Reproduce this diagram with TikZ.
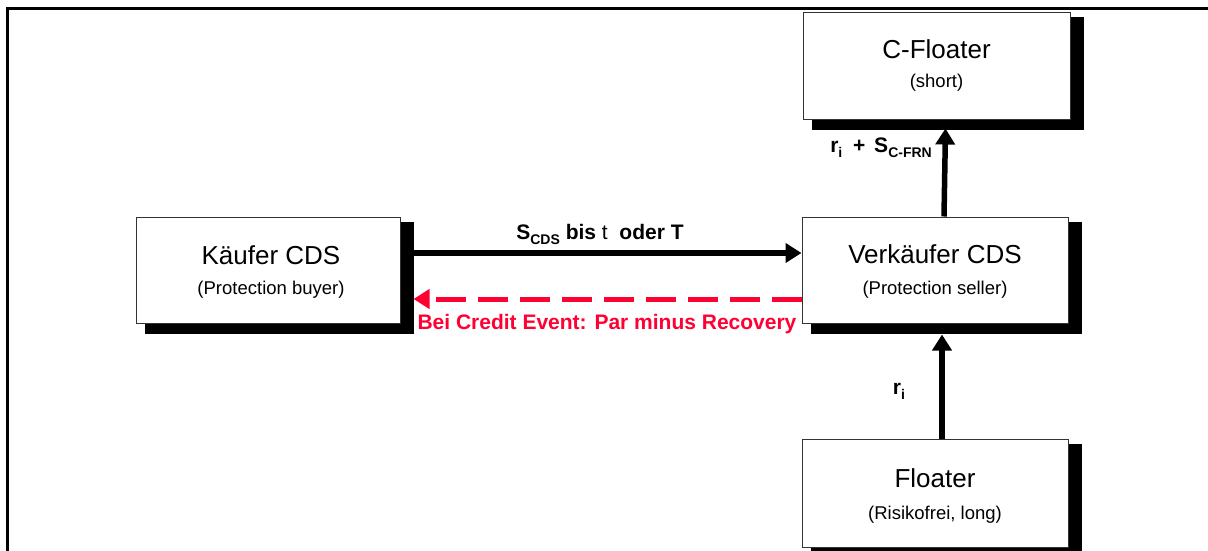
\documentclass[tikz,border=0pt]{standalone}
\usepackage{fontspec}
\setmainfont{Liberation Sans}
\usetikzlibrary{arrows.meta,backgrounds}
\definecolor{cdsred}{RGB}{255,0,51}
\newcommand{\sbx}[1]{\raisebox{-5pt}{\fontsize{14}{14}\selectfont\bfseries #1}}
\tikzset{
  box/.style={draw=black!80,line width=1pt,fill=white,minimum width=266pt,minimum height=106pt,inner sep=0pt},
  shadowfill/.style={fill=black},
  maintxt/.style={anchor=base,font=\fontsize{26}{30}\selectfont,inner sep=0pt},
  subtxt/.style={anchor=base,font=\fontsize{18.5}{22}\selectfont,inner sep=0pt},
  lbl/.style={anchor=base,font=\fontsize{21}{24}\selectfont\bfseries,inner sep=0pt},
  arr/.style={line width=5.5pt,-{Triangle[length=16pt,width=19pt]}},
  redarr/.style={line width=5pt,draw=cdsred,dash pattern=on 30pt off 12pt,-{Triangle[length=16pt,width=19pt]}}
}
\begin{document}
\begin{tikzpicture}[x=1pt,y=-1pt]
\useasboundingbox (0,0) rectangle (1208,551);
% frame
\draw[line width=3pt] (7.5,560) -- (7.5,8.5) -- (1215,8.5);
% boxes
\node[box,minimum width=264pt] (kaeufer) at (268,270) {};
\node[box] (verk) at (935,270) {};
\node[box,minimum width=267pt] (cfloat) at (936.5,66) {};
\node[box,minimum height=108pt] (floater) at (935,493) {};
\begin{scope}[on background layer]
  \foreach \n in {kaeufer,verk,cfloat,floater}{
    \fill[shadowfill] ([xshift=9pt,yshift=-5pt]\n.north west) rectangle ([xshift=13pt,yshift=-10pt]\n.south east);
  }
\end{scope}
% texts
\node[maintxt] (t1) at (271,264) {Käufer CDS};
\node[subtxt] (t2) at (271,294) {(Protection buyer)};
\node[maintxt] (t3) at (935,263) {Verkäufer CDS};
\node[subtxt] (t4) at (935,294) {(Protection seller)};
\node[maintxt] (t5) at (936.5,59) {C-Floater};
\node[subtxt] (t6) at (936.5,88) {(short)};
\node[maintxt] (t7) at (935,487) {Floater};
\node[subtxt] (t8) at (935,519) {(Risikofrei, long)};
% arrows
\draw[arr] ([xshift=13pt,yshift=17pt]kaeufer.east) -- ([yshift=17pt]verk.west);
\draw[redarr] ([yshift=-29pt]verk.west) -- ([xshift=13pt,yshift=-29pt]kaeufer.east);
\draw[arr] ([xshift=9pt]verk.north) -- ([xshift=9pt,yshift=-9pt]cfloat.south);
\draw[arr] ([xshift=7pt]floater.north) -- ([xshift=7pt,yshift=-11pt]verk.south);
% labels
\node[lbl] (l1) at (600,239) {S\sbx{CDS} bis {\mdseries t} \ oder T};
\node[lbl,text=cdsred] (l2) at (607,329) {Bei Credit Event: Par minus Recovery};
\node[lbl,anchor=base east] (l3) at (932,152) {r\sbx{i}\hspace{5pt} + \hspace{3pt}S\sbx{C-FRN}};
\node[lbl] (l4) at (899,394) {r\sbx{i}};
\end{tikzpicture}
\end{document}
